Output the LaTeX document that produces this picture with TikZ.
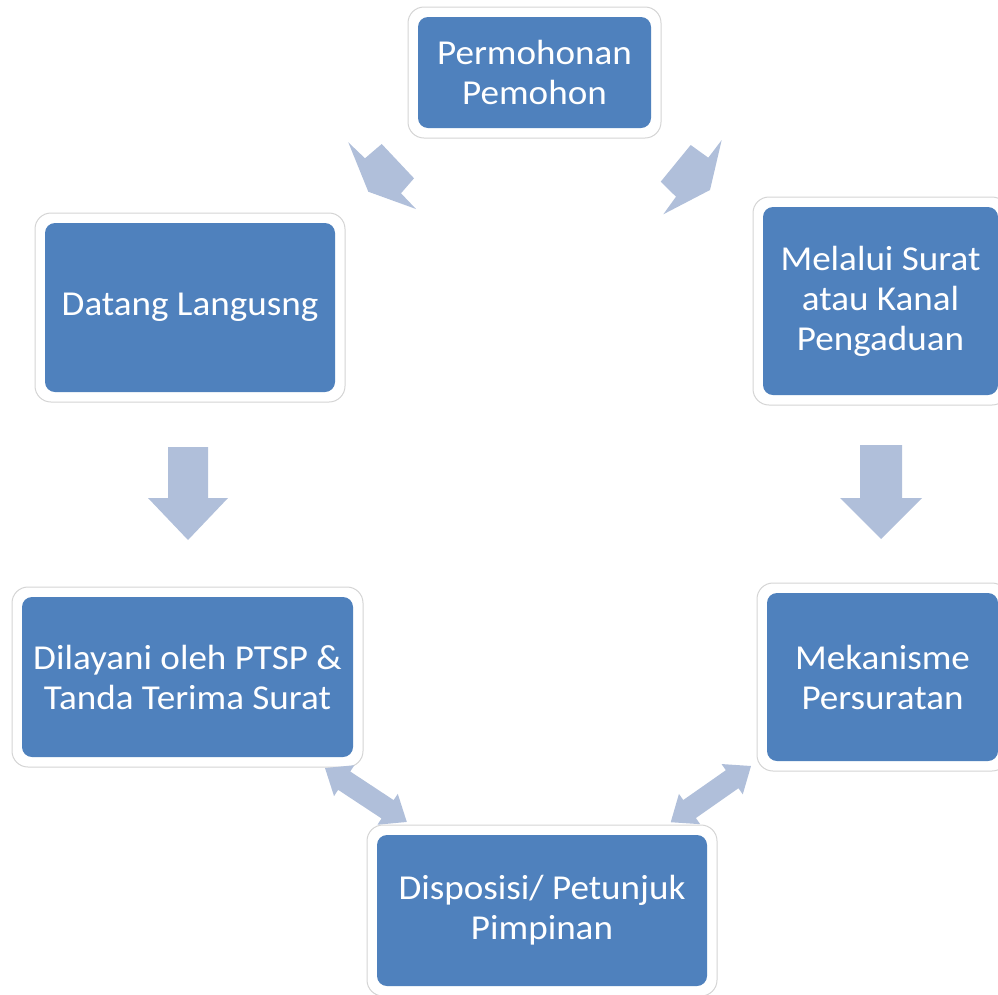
\documentclass[tikz,border=0pt]{standalone}
\usepackage{fontspec}
\setmainfont[FakeStretch=1.06]{Carlito}
\usetikzlibrary{calc}
\definecolor{boxblue}{HTML}{4F81BD}
\definecolor{arrowblue}{HTML}{B0BFDA}
\definecolor{rimgray}{HTML}{D4D4D4}
\tikzset{
  box/.style={shape=rectangle, fill=white, draw=rimgray, line width=1pt,
    rounded corners=16pt, inner sep=0pt, align=center, text=white,
    font=\fontsize{35}{40}\selectfont,
    path picture={\fill[boxblue, rounded corners=10pt]
      ($(path picture bounding box.south west)+(10pt,10pt)$) rectangle
      ($(path picture bounding box.north east)-(10pt,10pt)$);}},
  blockarrow/.style={fill=arrowblue, draw=none}
}
\begin{document}
\begin{tikzpicture}[x=1pt,y=-1pt]
\useasboundingbox (0,0) rectangle (998,994);

\node[box, minimum width=253pt, minimum height=131pt] (perm) at (534.5,72.5) {Permohonan\\Pemohon};
\node[box, minimum width=310pt, minimum height=189pt] (datang) at (190,307.5) {Datang Langusng};
\node[box, minimum width=255pt, minimum height=208pt] (melalui) at (880.5,301) {Melalui Surat\\atau Kanal\\Pengaduan};
\node[box, minimum width=351pt, minimum height=180pt] (dilayani) at (187.5,677) {Dilayani oleh PTSP \&\\Tanda Terima Surat};
\node[box, minimum width=251pt, minimum height=188pt] (mekanisme) at (882.5,677) {Mekanisme\\Persuratan};
\node[box, minimum width=350pt, minimum height=171pt] (disposisi) at (542,910.5) {Disposisi/ Petunjuk\\Pimpinan};

% top diagonal arrows
\fill[blockarrow] (348.3,142.3) -- (365,158.3) -- (381.7,144) -- (414,178.3) -- (401,193.3) -- (416,209) -- (368.3,191.7) -- cycle;
\fill[blockarrow] (721.7,140) -- (708.3,157.7) -- (690.7,145) -- (660.7,181.7) -- (676,196.7) -- (663.3,214.3) -- (710,190) -- cycle;

% vertical arrows
\fill[blockarrow] (168,447) -- (208,447) -- (208,498) -- (228,498) -- (188,540) -- (148,498) -- (168,498) -- cycle;
\fill[blockarrow] (860,445) -- (902,445) -- (902,498) -- (922,498) -- (881,539) -- (840,498) -- (860,498) -- cycle;

% double arrows
\begin{scope}[shift={(325,768)}, rotate=-33.4]
\fill[blockarrow] (0,0) -- (23,18.5) -- (23,11) -- (75,11) -- (75,18.5) -- (98,0) -- (75,-18.5) -- (75,-11) -- (23,-11) -- (23,-18.5) -- cycle;
\end{scope}
\begin{scope}[shift={(751,766)}, rotate=-145]
\fill[blockarrow] (0,0) -- (23,18.5) -- (23,11) -- (75,11) -- (75,18.5) -- (98,0) -- (75,-18.5) -- (75,-11) -- (23,-11) -- (23,-18.5) -- cycle;
\end{scope}
\end{tikzpicture}
\end{document}
